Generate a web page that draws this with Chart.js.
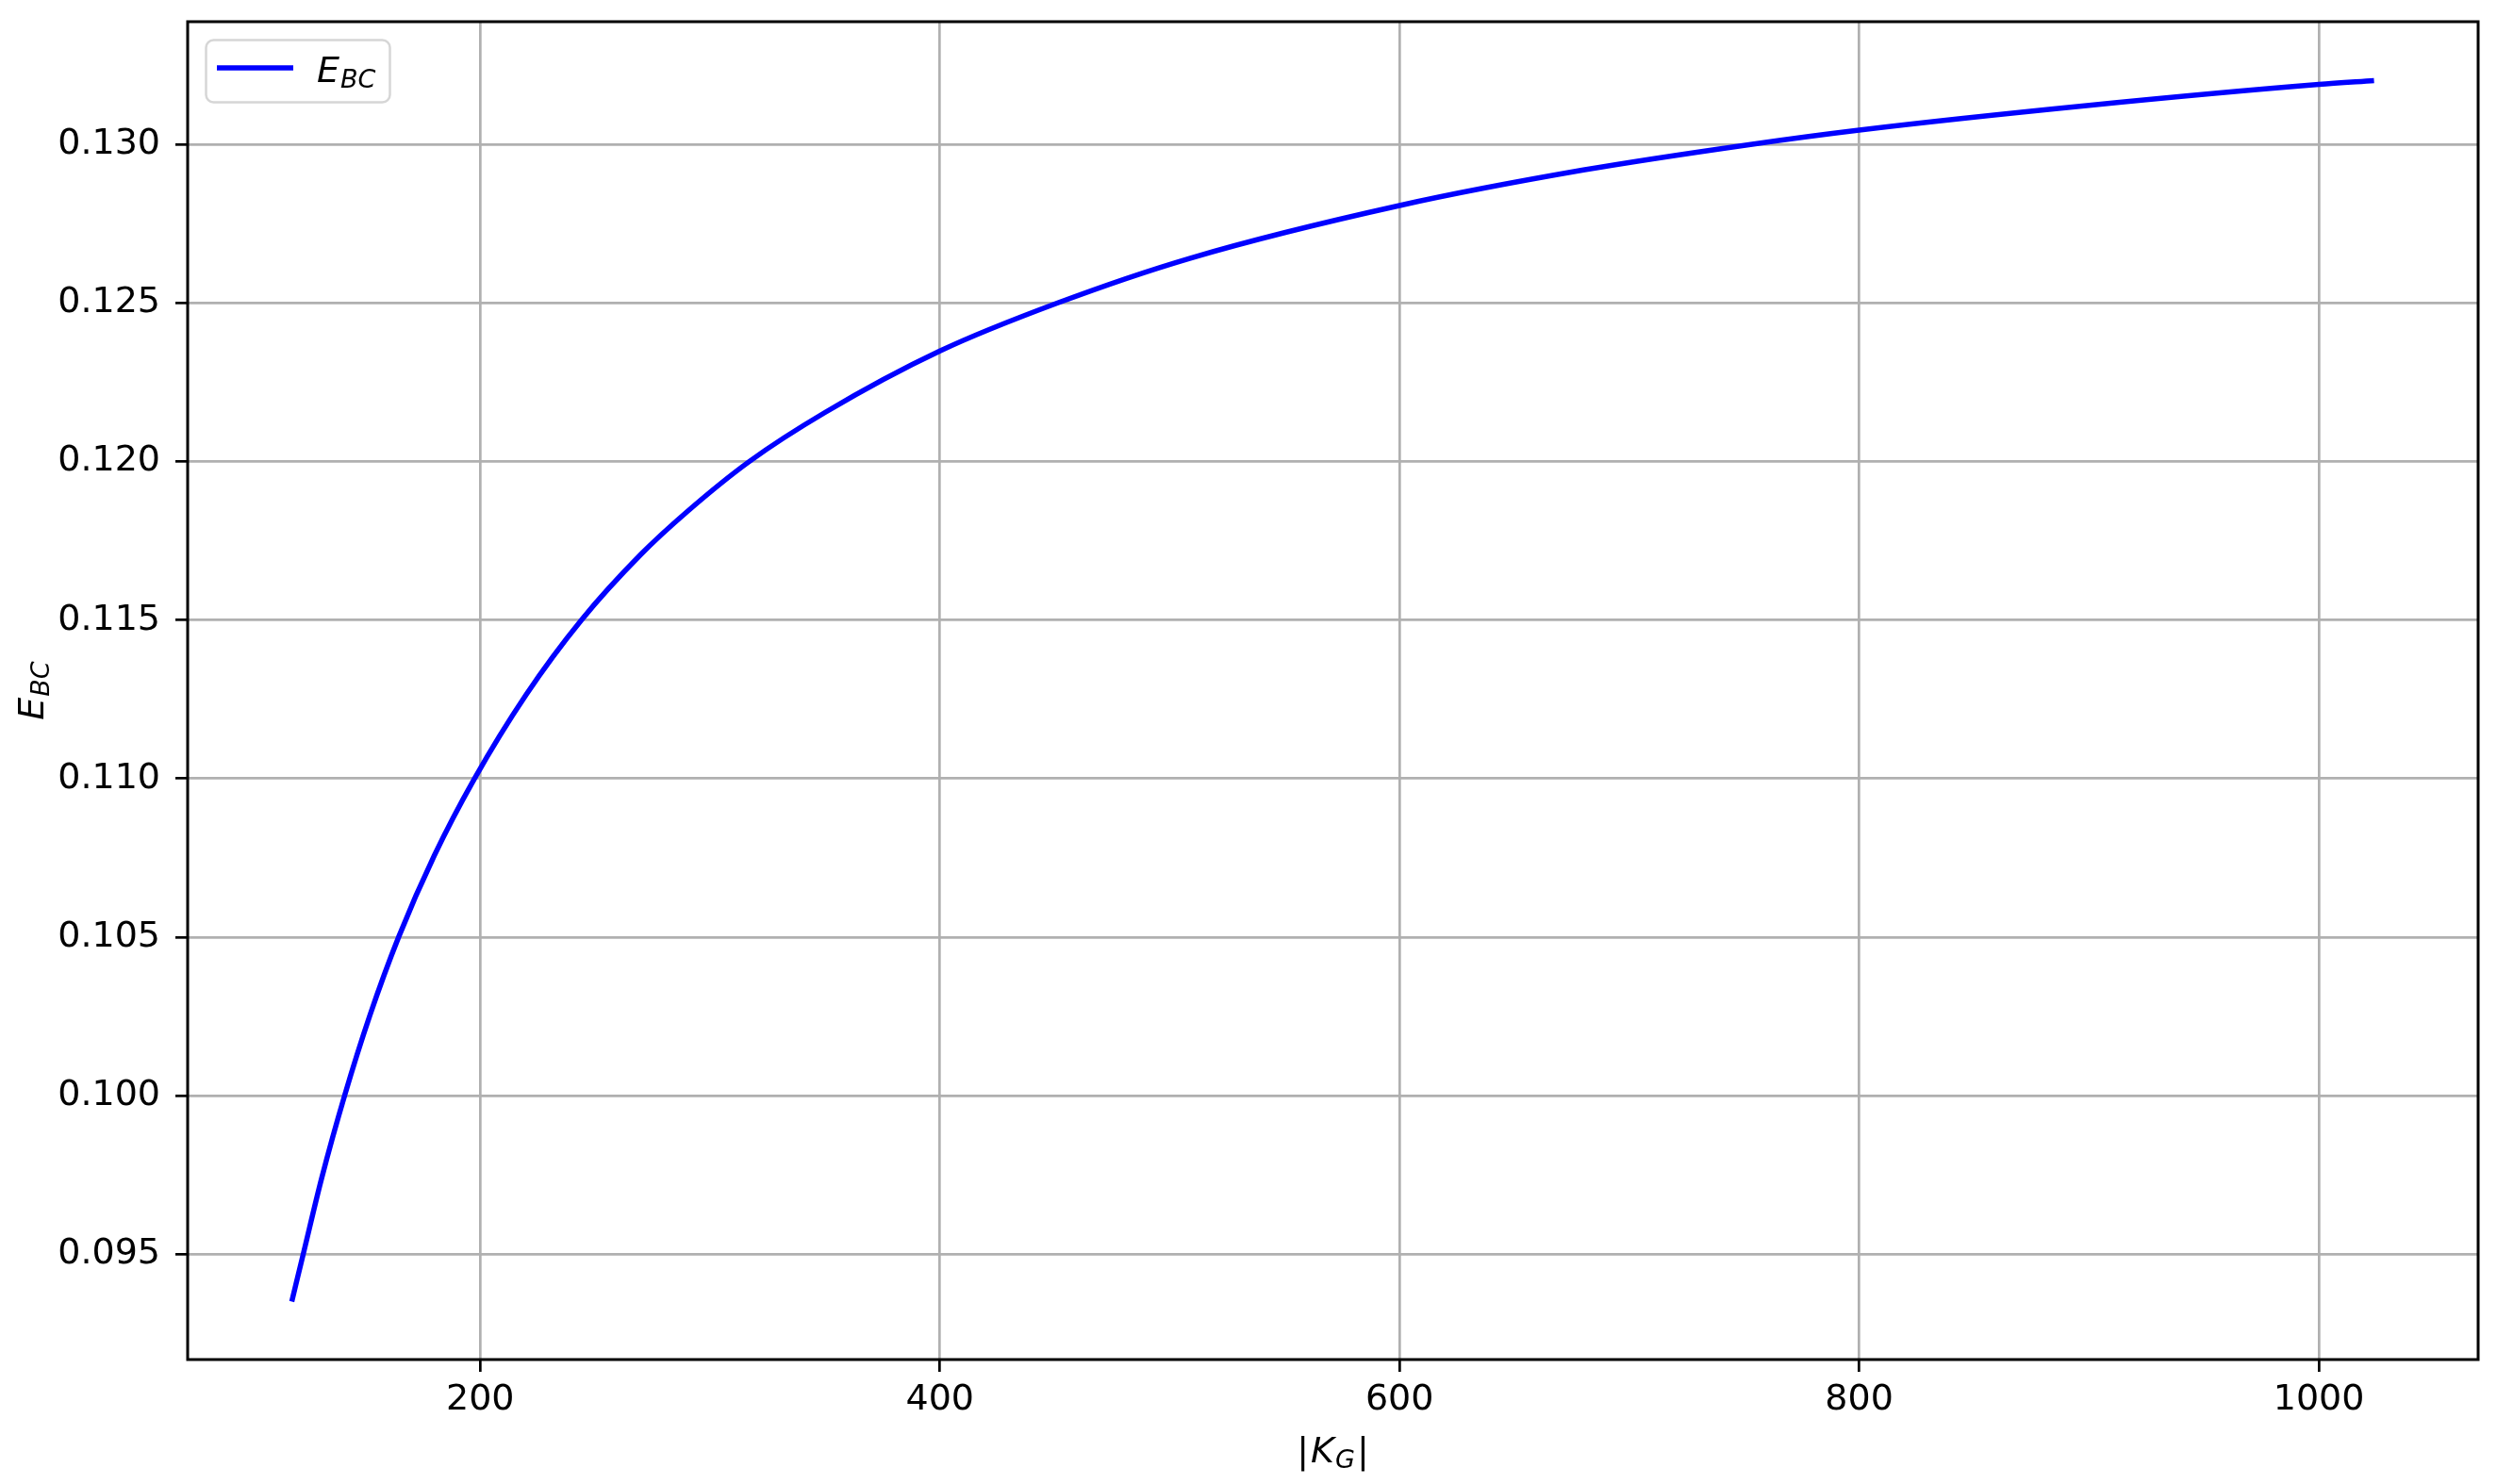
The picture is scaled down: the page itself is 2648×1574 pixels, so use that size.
<!DOCTYPE html>
<html>
<head>
<meta charset="utf-8">
<script src="https://cdn.jsdelivr.net/npm/chart.js@4.4.1/dist/chart.umd.min.js"></script>
<style>
  html, body { margin: 0; padding: 0; background: #fff; }
  #wrap { width: 2648px; height: 1574px; }
</style>
</head>
<body>
<div id="wrap"><canvas id="myChart" width="2648" height="1574"></canvas></div>
<script>
// values
const kg_values = [118, 123, 131, 141, 152, 164.5, 180, 197.5, 220, 244, 270, 290, 317, 350, 400, 451, 509, 600, 680, 752, 800, 900, 1000, 1024];
const ebc_values = [0.0935, 0.0950, 0.09739, 0.1000, 0.10253, 0.1050, 0.10757, 0.1100, 0.11265, 0.1150, 0.11708, 0.11842, 0.1200, 0.12155, 0.12349, 0.1250, 0.12642, 0.12808, 0.1292, 0.1300, 0.13046, 0.13124, 0.1319, 0.13202];
const x_ticks = [200, 400, 600, 800, 1000];
const y_ticks = [0.095, 0.100, 0.105, 0.110, 0.115, 0.120, 0.125, 0.130];

const FONT = "'DejaVu Sans', sans-serif";

// draws base letter with a subscript, both italic (mathtext look)
const drawSub = (ctx, base, sub, x, y, size) => {
    ctx.font = `italic ${size}px ${FONT}`;
    ctx.fillText(base, x, y);
    let w = ctx.measureText(base).width;
    ctx.font = `italic ${Math.round(size * 0.7)}px ${FONT}`;
    ctx.fillText(sub, x + w + 1, y + size * 0.15);
    return w + 1 + ctx.measureText(sub).width;
};

const subWidth = (ctx, base, sub, size) => {
    ctx.font = `italic ${size}px ${FONT}`;
    let w = ctx.measureText(base).width;
    ctx.font = `italic ${Math.round(size * 0.7)}px ${FONT}`;
    return w + 1 + ctx.measureText(sub).width;
};

const decor = {
    id: 'decor',
    beforeDraw(chart) {
        const ctx = chart.ctx;
        ctx.save();
        ctx.fillStyle = '#ffffff';
        ctx.fillRect(0, 0, chart.width, chart.height);
        ctx.restore();
    },
    afterDatasetsDraw(chart) {
        const ctx = chart.ctx;
        const a = chart.chartArea;
        ctx.save();
        // frame
        ctx.strokeStyle = '#000000';
        ctx.lineWidth = 3;
        ctx.strokeRect(a.left, a.top, a.right - a.left, a.bottom - a.top);

        // legend
        ctx.beginPath();
        ctx.roundRect(218.5, 42.5, 195, 66, 8);
        ctx.fillStyle = 'rgba(255,255,255,0.8)';
        ctx.fill();
        ctx.strokeStyle = '#d6d6d6';
        ctx.lineWidth = 2.5;
        ctx.stroke();
        ctx.beginPath();
        ctx.moveTo(230, 72);
        ctx.lineTo(311, 72);
        ctx.strokeStyle = '#0000ff';
        ctx.lineWidth = 5.5;
        ctx.stroke();
        ctx.fillStyle = '#000000';
        ctx.textBaseline = 'alphabetic';
        ctx.textAlign = 'left';
        drawSub(ctx, 'E', 'BC', 336, 87, 38);

        // x axis title |K_G|
        const cx = (a.left + a.right) / 2;
        ctx.font = `38px ${FONT}`;
        const barW = ctx.measureText('|').width;
        const kw = subWidth(ctx, 'K', 'G', 38);
        let x0 = cx - (2 * barW + kw + 4) / 2;
        const by = 1551;
        ctx.font = `38px ${FONT}`;
        ctx.fillText('|', x0, by);
        drawSub(ctx, 'K', 'G', x0 + barW + 2, by, 38);
        ctx.font = `38px ${FONT}`;
        ctx.fillText('|', x0 + barW + kw + 4, by);

        // y axis title E_BC
        ctx.translate(46, (a.top + a.bottom) / 2);
        ctx.rotate(-Math.PI / 2);
        const ew = subWidth(ctx, 'E', 'BC', 38);
        drawSub(ctx, 'E', 'BC', -ew / 2, 0, 38);
        ctx.restore();
    }
};

const ctx = document.getElementById('myChart').getContext('2d');
const chart = new Chart(ctx, {
    type: 'scatter',
    data: {
        datasets: [{
            label: 'E_BC',
            data: kg_values.map((k, i) => ({ x: k, y: ebc_values[i] })),
            showLine: true,
            borderColor: '#0000ff',
            backgroundColor: '#0000ff',
            borderWidth: 5.5,
            pointRadius: 0,
            cubicInterpolationMode: 'monotone'
        }]
    },
    options: {
        responsive: false,
        animation: false,
        devicePixelRatio: 1,
        layout: { padding: { top: 23, right: 20, left: 0, bottom: 0 } },
        plugins: {
            legend: { display: false },
            tooltip: { enabled: false }
        },
        scales: {
            x: {
                type: 'linear',
                min: 72.7,
                max: 1069.3,
                afterBuildTicks: axis => { axis.ticks = x_ticks.map(v => ({ value: v })); },
                afterFit: axis => {
                    axis.height = 132;
                    axis.paddingLeft = 0;
                    axis.paddingRight = 0;
                },
                grid: { color: '#b0b0b0', lineWidth: 2.7, tickLength: 13, tickColor: '#000000', tickWidth: 2.7 },
                border: { display: false },
                ticks: {
                    color: '#000000',
                    font: { family: FONT, size: 38 },
                    padding: 7,
                    maxRotation: 0,
                    callback: v => String(v)
                }
            },
            y: {
                type: 'linear',
                min: 0.09167,
                max: 0.13388,
                afterBuildTicks: axis => { axis.ticks = y_ticks.map(v => ({ value: v })); },
                afterFit: axis => {
                    axis.width = 199;
                    axis.paddingTop = 0;
                    axis.paddingBottom = 0;
                },
                grid: { color: '#b0b0b0', lineWidth: 2.7, tickLength: 13, tickColor: '#000000', tickWidth: 2.7 },
                border: { display: false },
                ticks: {
                    color: '#000000',
                    font: { family: FONT, size: 38 },
                    padding: 16,
                    callback: v => v.toFixed(3)
                }
            }
        }
    },
    plugins: [decor]
});
</script>
</body>
</html>
